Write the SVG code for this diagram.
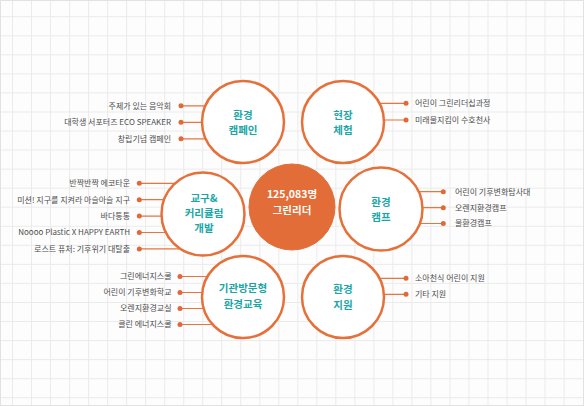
<svg xmlns="http://www.w3.org/2000/svg" width="584" height="406" viewBox="0 0 584 406">
<style>
.grid{stroke:#ebebeb;stroke-width:1;fill:none}
.node{fill:#fff;stroke:#e6703a;stroke-width:2.5}
.hub{fill:#e36d38;stroke:#e36d38;stroke-width:1}
.t{font-family:"Noto Sans CJK KR","Noto Sans",sans-serif;font-weight:700;font-size:10.5px;fill:#1aa6a6;text-anchor:middle}
.th{font-family:"Noto Sans CJK KR","Noto Sans",sans-serif;font-weight:700;font-size:10.5px;fill:#fff;text-anchor:middle}
.ln{stroke:#e8743f;stroke-width:1.2;fill:none}
.dot{fill:#e2683a}
.l{font-family:"Noto Sans CJK KR","Noto Sans",sans-serif;font-size:8px;fill:#4d4d4d}
.r{text-anchor:end}
</style>
<rect x="0" y="0" width="584" height="406" fill="#fdfdfd"/>
<path class="grid" d="M12.5 0V406M31.5 0V406M50.5 0V406M69.6 0V406M88.6 0V406M107.6 0V406M126.6 0V406M145.6 0V406M164.7 0V406M183.7 0V406M202.7 0V406M221.7 0V406M240.7 0V406M259.8 0V406M278.8 0V406M297.8 0V406M316.8 0V406M335.8 0V406M354.9 0V406M373.9 0V406M392.9 0V406M411.9 0V406M430.9 0V406M450 0V406M469 0V406M488 0V406M507 0V406M526 0V406M545 0V406M564.1 0V406M0 16.7H584M0 35.8H584M0 54.8H584M0 73.9H584M0 92.9H584M0 112H584M0 131H584M0 150H584M0 169.1H584M0 188.2H584M0 207.2H584M0 226.3H584M0 245.3H584M0 264.4H584M0 283.4H584M0 302.5H584M0 321.5H584M0 340.6H584M0 359.6H584M0 378.7H584M0 397.7H584"/>
<rect x="0.5" y="0.5" width="583" height="405" fill="none" stroke="#e2e2e2" stroke-width="1"/>

<g id="connectors">
  <path class="ln" d="M181 105.8H206M181 122.3H203M181 138.8H206"/>
  <path class="ln" d="M379 103.3H406M383 120H406"/>
  <path class="ln" d="M139.3 183.3H176.5M139.3 199.7H165M139.3 216.1H174M139.3 232.5H168M139.3 248.9H179"/>
  <path class="ln" d="M418.5 191.7H443.3M422 207.7H443.3M419.5 223.5H443.3"/>
  <path class="ln" d="M180 276.5H208.5M180 292.5H203M180 308.5H204.5M180 324.5H213.5"/>
  <path class="ln" d="M379 278.3H406M383 294.3H406"/>
  <g class="dot">
    <circle cx="181" cy="105.8" r="2.5"/><circle cx="181" cy="122.3" r="2.5"/><circle cx="181" cy="138.8" r="2.5"/>
    <circle cx="406" cy="103.3" r="2.5"/><circle cx="406" cy="120" r="2.5"/>
    <circle cx="139.3" cy="183.3" r="2.5"/><circle cx="139.3" cy="199.7" r="2.5"/><circle cx="139.3" cy="216.1" r="2.5"/><circle cx="139.3" cy="232.5" r="2.5"/><circle cx="139.3" cy="248.9" r="2.5"/>
    <circle cx="443.3" cy="191.7" r="2.5"/><circle cx="443.3" cy="207.7" r="2.5"/><circle cx="443.3" cy="223.5" r="2.5"/>
    <circle cx="180" cy="276.5" r="2.5"/><circle cx="180" cy="292.5" r="2.5"/><circle cx="180" cy="308.5" r="2.5"/><circle cx="180" cy="324.5" r="2.5"/>
    <circle cx="406" cy="278.3" r="2.5"/><circle cx="406" cy="294.3" r="2.5"/>
  </g>
</g>

<g id="campaign">
  <circle class="node" cx="243" cy="122" r="41"/>
  <text class="t" x="243" y="118.5">환경</text>
  <text class="t" x="243" y="134">캠페인</text>
  <text class="l r" x="171" y="108.7">주제가 있는 음악회</text>
  <text class="l r" x="171" y="125.2">대학생 서포터즈 ECO SPEAKER</text>
  <text class="l r" x="171" y="141.7">창립기념 캠페인</text>
</g>

<g id="field">
  <circle class="node" cx="343" cy="122" r="41"/>
  <text class="t" x="343" y="118.5">현장</text>
  <text class="t" x="343" y="134">체험</text>
  <text class="l" x="415" y="106.2">어린이 그린리더십과정</text>
  <text class="l" x="415" y="122.9">미래물지킴이 수호천사</text>
</g>

<g id="curriculum">
  <circle class="node" cx="203" cy="214" r="41.5"/>
  <text class="t" x="204" y="202">교구&amp;</text>
  <text class="t" x="204" y="217">커리큘럼</text>
  <text class="t" x="204" y="232">개발</text>
  <text class="l r" x="130" y="186.2">반짝반짝 에코타운</text>
  <text class="l r" x="130" y="202.6">미션! 지구를 지켜라 아슬아슬 지구</text>
  <text class="l r" x="130" y="219">바다통통</text>
  <text class="l r" x="130" y="235.4">Noooo Plastic X HAPPY EARTH</text>
  <text class="l r" x="130" y="251.8">로스트 퓨처: 기후위기 대탈출</text>
</g>

<g id="hub">
  <circle class="hub" cx="292" cy="207" r="43"/>
  <text class="th" x="292" y="198">125,083명</text>
  <text class="th" x="292" y="214">그린리더</text>
</g>

<g id="camp">
  <circle class="node" cx="381" cy="209" r="41.5"/>
  <text class="t" x="381" y="206">환경</text>
  <text class="t" x="381" y="221">캠프</text>
  <text class="l" x="455" y="194.6">어린이 기후변화탐사대</text>
  <text class="l" x="455" y="210.6">오렌지환경캠프</text>
  <text class="l" x="455" y="226.4">물환경캠프</text>
</g>

<g id="visit">
  <circle class="node" cx="243" cy="297" r="41"/>
  <text class="t" x="243" y="292">기관방문형</text>
  <text class="t" x="243" y="308">환경교육</text>
  <text class="l r" x="171.5" y="279.4">그린에너지스쿨</text>
  <text class="l r" x="171.5" y="295.4">어린이 기후변화학교</text>
  <text class="l r" x="171.5" y="311.4">오렌지환경교실</text>
  <text class="l r" x="171.5" y="327.4">클린 에너지스쿨</text>
</g>

<g id="support">
  <circle class="node" cx="343" cy="297" r="41"/>
  <text class="t" x="343" y="293">환경</text>
  <text class="t" x="343" y="309">지원</text>
  <text class="l" x="415" y="281.2">소아천식 어린이 지원</text>
  <text class="l" x="415" y="297.2">기타 지원</text>
</g>
</svg>
